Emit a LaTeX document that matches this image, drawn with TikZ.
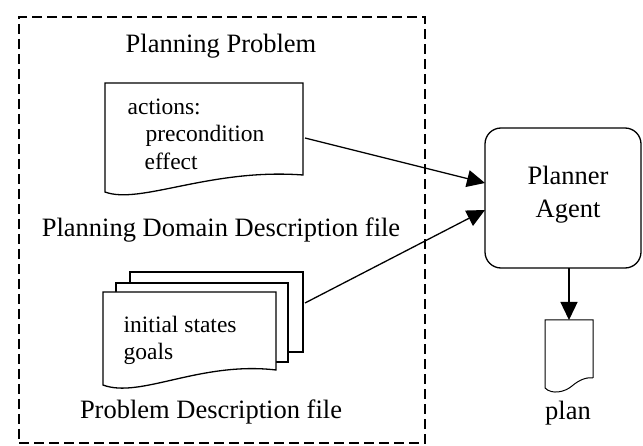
\documentclass[tikz,border=0pt]{standalone}
\usepackage{fontspec}
\setmainfont{Liberation Serif}
\usetikzlibrary{arrows.meta,calc}
\begin{document}
\begin{tikzpicture}[x=1pt,y=-1pt,line width=1.3pt,
  lbl/.style={font=\fontsize{26.5}{30}\selectfont,inner sep=0,anchor=base},
  doctxt/.style={font=\fontsize{23.5}{28}\selectfont,inner sep=0,anchor=base west},
  area/.style={inner sep=0,outer sep=0},
  arr/.style={-{Triangle[length=18pt,width=17pt]},line width=1.3pt},
  sheet/.style={draw,fill=white,line width=1.3pt}]
\useasboundingbox (0,0) rectangle (643,446);
% dashed container
\node[area,draw,dashed,dash pattern=on 10pt off 5pt,minimum width=406pt,minimum height=426pt] (problem) at (222,230) {};
\node[lbl] (ptitle) at (221,53) {Planning Problem};
% domain document
\node[area,minimum width=198pt,minimum height=92pt] (domain) at (204,129) {};
\draw[sheet] (domain.south east) -- (domain.north east) -- (domain.north west) -- (105,192)
  .. controls (140,205) and (210,168) .. (domain.south east) -- cycle;
\node[doctxt] (dact) at (127,115) {actions:};
\node[doctxt] (dpre) at (145,142) {precondition};
\node[doctxt] (deff) at (144,170) {effect};
\node[lbl] (dlabel) at (221,237) {Planning Domain Description file};
% problem document stack
\node[area,minimum width=173pt,minimum height=80pt] (pback) at (216.5,312) {};
\node[area,minimum width=172pt,minimum height=79pt] (pmid) at (202,322.5) {};
\node[area,minimum width=173pt,minimum height=78pt] (pfront) at (189.5,331) {};
\draw[sheet] (pback.north west) rectangle (pback.south east);
\draw[sheet] (pmid.north west) rectangle (pmid.south east);
\draw[sheet] (pfront.south east) -- (pfront.north east) -- (pfront.north west) -- (103,385)
  .. controls (140,399) and (200,361) .. (pfront.south east) -- cycle;
\node[doctxt] (pinit) at (123,333) {initial states};
\node[doctxt] (pgoal) at (123,360) {goals};
\node[lbl] (plabel) at (211,418) {Problem Description file};
% planner agent
\node[area,draw,rounded corners=16pt,minimum width=156pt,minimum height=140pt] (agent) at (563,198) {};
\node[lbl] (agt1) at (568,185) {Planner};
\node[lbl] (agt2) at (568,218) {Agent};
% plan document
\node[area,minimum width=48pt,minimum height=58pt] (plan) at (569,349) {};
\draw[draw,line width=1pt] (plan.south east) -- (plan.north east) -- (plan.north west) -- (545,388)
  .. controls (552,395) and (565,392) .. (572,386) .. controls (580,379) and (588,377) .. (plan.south east);
\node[lbl] (plantxt) at (568,420) {plan};
% connectors
\draw[arr] ($(domain.east)+(2,9)$) -- ($(agent.west)+(0,-15)$);
\draw[arr] ($(pback.east)+(2,-9)$) -- ($(agent.west)+(0,12)$);
\draw[arr] (agent.south -| plan.north) -- (plan.north);
\end{tikzpicture}
\end{document}
